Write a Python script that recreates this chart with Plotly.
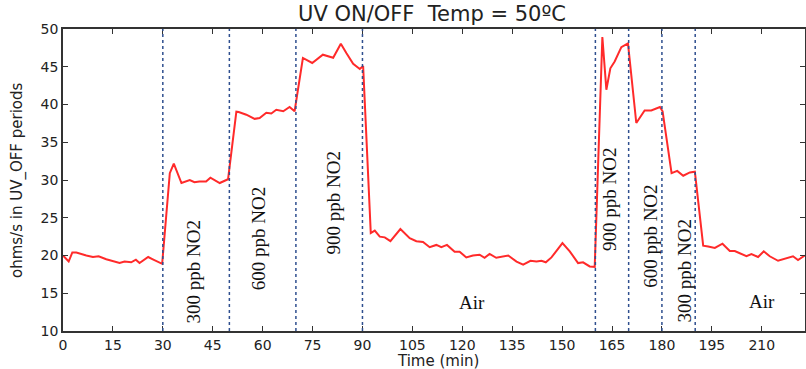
import plotly.graph_objects as go

# ---- data ----
time_min = [0, 1.7, 2.8, 4, 7, 9, 10.7, 13, 17, 18.5, 20.5, 21.9, 23, 25.6, 27, 29.8,
            32.1, 33.3, 35.6, 36.6, 38.1, 39.5, 41, 43, 44.3, 47.1, 49.6,
            52.1, 52.8, 55.1, 57.6, 59.1, 61.1, 62.6, 64.1, 66.2, 68.1, 69.6,
            72.1, 74.9, 78.1, 81.2, 83.5, 85.2, 87.2, 89.2, 90.2,
            92.5, 93.7, 95.2, 96.7, 98.4, 101.4, 104.2, 106.2, 108.2, 110.2, 112.2, 113.7,
            115.4, 117.7, 119.2, 121.2, 123.2, 125.2, 126.7, 128.2, 130.2, 132, 133.8, 136.3,
            138.3, 140.5, 142.3, 143.8, 145.1, 146.8, 150.1, 152.3, 154.8, 156.3, 158.3, 159.8,
            162.1, 163.3, 164.5, 165.8, 167.8, 169.8,
            172.3, 174.8, 176.8, 179.4, 180.2,
            182.9, 184.6, 186.4, 188.4, 189.9,
            192.4, 193.9, 195.9, 198.2, 200.4, 201.9, 203.4, 205.4, 206.9, 208.9, 210.6,
            212.4, 214.9, 216.9, 219.4, 220.9, 222.9]

ohms_per_s = [20.0, 19.2, 20.4, 20.4, 20.0, 19.8, 19.9, 19.5, 19.0, 19.2, 19.1, 19.45, 19.0, 19.8, 19.5, 18.9,
              30.9, 32.16, 29.6, 29.8, 30.0, 29.7, 29.8, 29.8, 30.3, 29.6, 30.1,
              39.05, 39.0, 38.65, 38.1, 38.2, 38.9, 38.8, 39.3, 39.1, 39.67, 39.1,
              46.16, 45.5, 46.6, 46.2, 48.05, 46.8, 45.4, 44.7, 45.1,
              22.98, 23.3, 22.5, 22.4, 21.9, 23.5, 22.3, 21.9, 21.8, 21.1, 21.4, 21.1,
              21.4, 20.5, 20.5, 19.75, 20.0, 20.1, 19.7, 20.2, 19.7, 19.8, 20.0, 19.2,
              18.8, 19.3, 19.2, 19.3, 19.1, 19.75, 21.65, 20.55, 19.0, 19.1, 18.55, 18.5,
              48.94, 41.96, 44.8, 45.7, 47.6, 48.1,
              37.55, 39.2, 39.2, 39.67, 39.1,
              30.9, 31.2, 30.57, 31.0, 31.1,
              21.3, 21.2, 21.0, 21.56, 20.6, 20.6, 20.3, 19.9, 20.2, 19.8, 20.55,
              19.9, 19.3, 19.55, 19.9, 19.4, 20.0]

event_times = [30, 50, 70, 90, 160, 170, 180, 190]

phase_labels = ["300 ppb NO2", "600 ppb NO2", "900 ppb NO2", "Air",
                "900 ppb NO2", "600 ppb NO2", "300 ppb NO2", "Air"]
phase_x = [39.3, 59.0, 81.4, 122.8, 164.2, 176.6, 186.9, 210.0]
phase_y = [17.85, 22.2, 27.0, 13.75, 27.4, 22.55, 18.0, 13.95]
phase_angle = [-90, -90, -90, 0, -90, -90, -90, 0]

x_ticks = list(range(0, 211, 15))
y_ticks = list(range(10, 51, 5))

fig = go.Figure()

fig.add_trace(go.Scatter(
    x=time_min, y=ohms_per_s, mode="lines",
    line=dict(color="#ff2a2a", width=2), showlegend=False,
))

for t in event_times:
    fig.add_shape(type="line", xref="x", yref="paper", x0=t, x1=t, y0=0, y1=1,
                  line=dict(color="#2f4f8f", width=1.5, dash="dot"), layer="above")

for txt, x, y, ang in zip(phase_labels, phase_x, phase_y, phase_angle):
    fig.add_annotation(x=x, y=y, xref="x", yref="y", text=txt, textangle=ang,
                       showarrow=False, xanchor="center", yanchor="middle",
                       font=dict(family="Liberation Serif", size=19, color="#111111"))

# axis titles as annotations for exact placement
fig.add_annotation(xref="paper", yref="paper", x=(17 - 63) / 742, y=0.5,
                   text="ohms/s in UV_OFF periods", textangle=-90, showarrow=False,
                   xanchor="center", yanchor="middle",
                   font=dict(family="DejaVu Sans", size=15, color="#222222"))
fig.add_annotation(xref="paper", yref="paper", x=(438 - 63) / 742, y=-(361 - 331) / 302,
                   text="Time (min)", showarrow=False,
                   xanchor="center", yanchor="middle",
                   font=dict(family="DejaVu Sans", size=15, color="#222222"))

axis_common = dict(showgrid=False, zeroline=False, showline=True, linecolor="#333333",
                   linewidth=1.5, mirror="ticks", ticks="inside", ticklen=5,
                   tickwidth=1, tickcolor="#333333", automargin=False,
                   tickfont=dict(family="DejaVu Sans", size=14, color="#222222"))

fig.update_xaxes(range=[0, 223], tickvals=x_ticks, ticktext=[str(v) for v in x_ticks],
                 **axis_common)
fig.update_yaxes(range=[10, 50], tickvals=y_ticks, ticktext=[str(v) for v in y_ticks],
                 **axis_common)

fig.update_layout(
    width=806, height=369,
    margin=dict(l=63, r=1, t=29, b=38, autoexpand=False),
    paper_bgcolor="white", plot_bgcolor="white",
    title=dict(text="UV ON/OFF\u00a0 Temp = 50ºC", x=432 / 806,
               xref="container", y=1 - 14 / 369, yref="container",
               xanchor="center", yanchor="middle", automargin=False,
               font=dict(family="DejaVu Sans", size=21, color="#222222")),
)

fig.write_html("out.html", config={"displayModeBar": False},
               post_script="document.body.style.margin='0';document.body.style.overflow='hidden';")
